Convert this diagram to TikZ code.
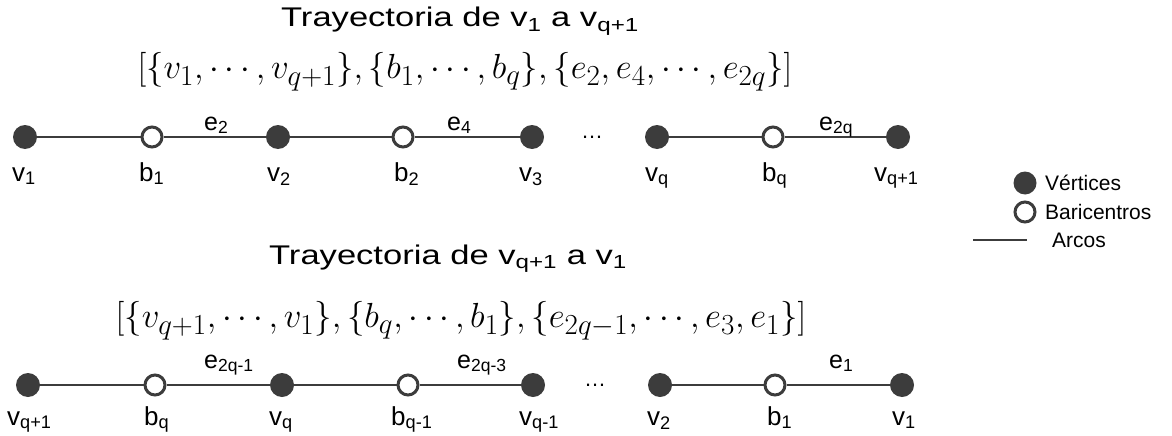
\documentclass[tikz,border=0pt]{standalone}
\usepackage{graphicx}
\usepackage{fontspec}
\setmainfont{Liberation Sans}
\newfontfamily\widefont{Liberation Sans}[FakeStretch=1.28]
\definecolor{vgray}{HTML}{3C3C3C}
\newcommand{\fscale}[1]{\scalebox{1.40}{\fontsize{24.88}{27}\selectfont #1}}
\begin{document}
\begin{tikzpicture}[x=1pt,y=-1pt,
  vert/.style={circle,fill=vgray,inner sep=0pt,minimum size=24pt},
  bary/.style={circle,draw=vgray,line width=3pt,fill=white,inner sep=0pt,minimum size=20pt},
  arc/.style={draw=vgray,line width=2.5pt},
  lab/.style={anchor=base west,inner sep=0pt,font=\fontsize{26}{28}\selectfont},
  elab/.style={anchor=base west,inner sep=0pt,font=\fontsize{25}{27}\selectfont},
  title/.style={anchor=base,inner sep=0pt,font=\widefont\fontsize{27}{29}\selectfont},
  formula/.style={inner sep=0pt},
  legtext/.style={anchor=west,inner sep=0pt,font=\fontsize{21}{23}\selectfont},
  dotsl/.style={inner sep=0pt,font=\fontsize{22}{24}\selectfont}]
\useasboundingbox (0,0) rectangle (1172,436);
% ---------- top path
\node[title] (t1) at (460,27) {Trayectoria de v\textsubscript{1} a v\textsubscript{q+1}};
\node[formula] (f1) at (465,72) {\fscale{$\bigl[\{v_1,\cdots,v_{q+1}\},\{b_1,\cdots,b_q\},\{e_2,e_4,\cdots,e_{2q}\}\bigr]$}};
\node[vert] (a1) at (25,137) {};
\node[bary] (a2) at (152,137) {};
\node[vert] (a3) at (278,137) {};
\node[bary] (a4) at (403,137) {};
\node[vert] (a5) at (532,137) {};
\node[dotsl] (ad) at (592,137) {\dots};
\node[vert] (a6) at (657,137) {};
\node[bary] (a7) at (773,137) {};
\node[vert] (a8) at (898,137) {};
\draw[arc] (a1) -- (a2) -- (a3) -- (a4) -- (a5);
\draw[arc] (a6) -- (a7) -- (a8);
\node[lab] (la1) at (12,181) {v\textsubscript{1}};
\node[lab] (la2) at (139,181) {b\textsubscript{1}};
\node[lab] (la3) at (267,181) {v\textsubscript{2}};
\node[lab] (la4) at (394,181) {b\textsubscript{2}};
\node[lab] (la5) at (519,181) {v\textsubscript{3}};
\node[lab] (la6) at (645,181) {v\textsubscript{q}};
\node[lab] (la7) at (762,181) {b\textsubscript{q}};
\node[lab] (la8) at (874,181) {v\textsubscript{q+1}};
\node[elab] (ea1) at (204,130) {e\textsubscript{2}};
\node[elab] (ea2) at (447,130) {e\textsubscript{4}};
\node[elab] (ea3) at (819,130) {e\textsubscript{2q}};
% ---------- bottom path
\node[title] (t2) at (448,264) {Trayectoria de v\textsubscript{q+1} a v\textsubscript{1}};
\node[formula] (f2) at (461,321) {\fscale{$\bigl[\{v_{q+1},\cdots,v_1\},\{b_q,\cdots,b_1\},\{e_{2q-1},\cdots,e_3,e_1\}\bigr]$}};
\node[vert] (b1) at (28,385) {};
\node[bary] (b2) at (155,385) {};
\node[vert] (b3) at (282,385) {};
\node[bary] (b4) at (408,385) {};
\node[vert] (b5) at (533,385) {};
\node[dotsl] (bd) at (595,385) {\dots};
\node[vert] (b6) at (660,385) {};
\node[bary] (b7) at (775,385) {};
\node[vert] (b8) at (902,385) {};
\draw[arc] (b1) -- (b2) -- (b3) -- (b4) -- (b5);
\draw[arc] (b6) -- (b7) -- (b8);
\node[lab] (lb1) at (7,425) {v\textsubscript{q+1}};
\node[lab] (lb2) at (144,425) {b\textsubscript{q}};
\node[lab] (lb3) at (269,425) {v\textsubscript{q}};
\node[lab] (lb4) at (391,425) {b\textsubscript{q-1}};
\node[lab] (lb5) at (519,425) {v\textsubscript{q-1}};
\node[lab] (lb6) at (647,425) {v\textsubscript{2}};
\node[lab] (lb7) at (767,425) {b\textsubscript{1}};
\node[lab] (lb8) at (892,425) {v\textsubscript{1}};
\node[elab] (eb1) at (204,368) {e\textsubscript{2q-1}};
\node[elab] (eb2) at (457,368) {e\textsubscript{2q-3}};
\node[elab] (eb3) at (829,368) {e\textsubscript{1}};
% ---------- legend
\node[vert,minimum size=23pt] (g1) at (1025,183) {};
\node[legtext] (gt1) at (1045,183) {Vértices};
\node[bary,minimum size=20pt] (g2) at (1025,212) {};
\node[legtext] (gt2) at (1045,212) {Baricentros};
\coordinate (g3a) at (973,240);
\coordinate (g3b) at (1027,240);
\draw[arc] (g3a) -- (g3b);
\node[legtext] (gt3) at (1052,240) {Arcos};
\end{tikzpicture}
\end{document}
